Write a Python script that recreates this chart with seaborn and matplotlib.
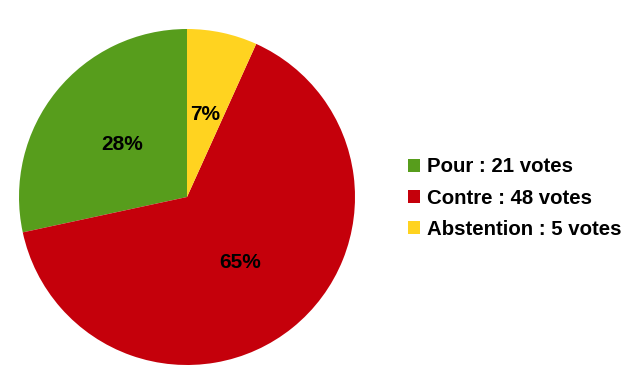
import matplotlib
matplotlib.use("Agg")
import matplotlib.pyplot as plt
import seaborn as sns
from matplotlib.patches import Patch

categories = ["Pour", "Contre", "Abstention"]
votes = [21, 48, 5]
colors = ["#579d1c", "#c5000b", "#ffd320"]

sns.set_theme(style="white")
plt.rcParams["font.family"] = ["Liberation Sans", "DejaVu Sans"]
plt.rcParams["text.color"] = "black"

fig = plt.figure(figsize=(6.4, 3.78), dpi=100)
ax = fig.add_axes([19/640, 13/378, 336/640, 336/378])
wedges, texts, autotexts = ax.pie(
    votes, colors=colors, startangle=90, counterclock=True,
    autopct=lambda p: f"{p:.0f}%", pctdistance=0.5,
    wedgeprops=dict(linewidth=0),
    textprops=dict(fontsize=15, fontweight="bold", color="black"),
)
ax.set_xlim(-1, 1)
ax.set_ylim(-1, 1)
ax.set_aspect("equal")

handles = [Patch(facecolor=c, edgecolor="none") for c in colors]
labels = [f"{c} : {v} votes" for c, v in zip(categories, votes)]
leg = fig.legend(handles, labels, loc="center left", bbox_to_anchor=(408/640, 1 - 198/378),
           frameon=False, prop=dict(size=14.7, weight="bold"),
           handlelength=0.6, handleheight=0.6, handletextpad=0.33,
           labelspacing=0.6, borderaxespad=0, borderpad=0)
for t in leg.get_texts():
    t.set_color("black")
fig.savefig("out.png", dpi=100)
